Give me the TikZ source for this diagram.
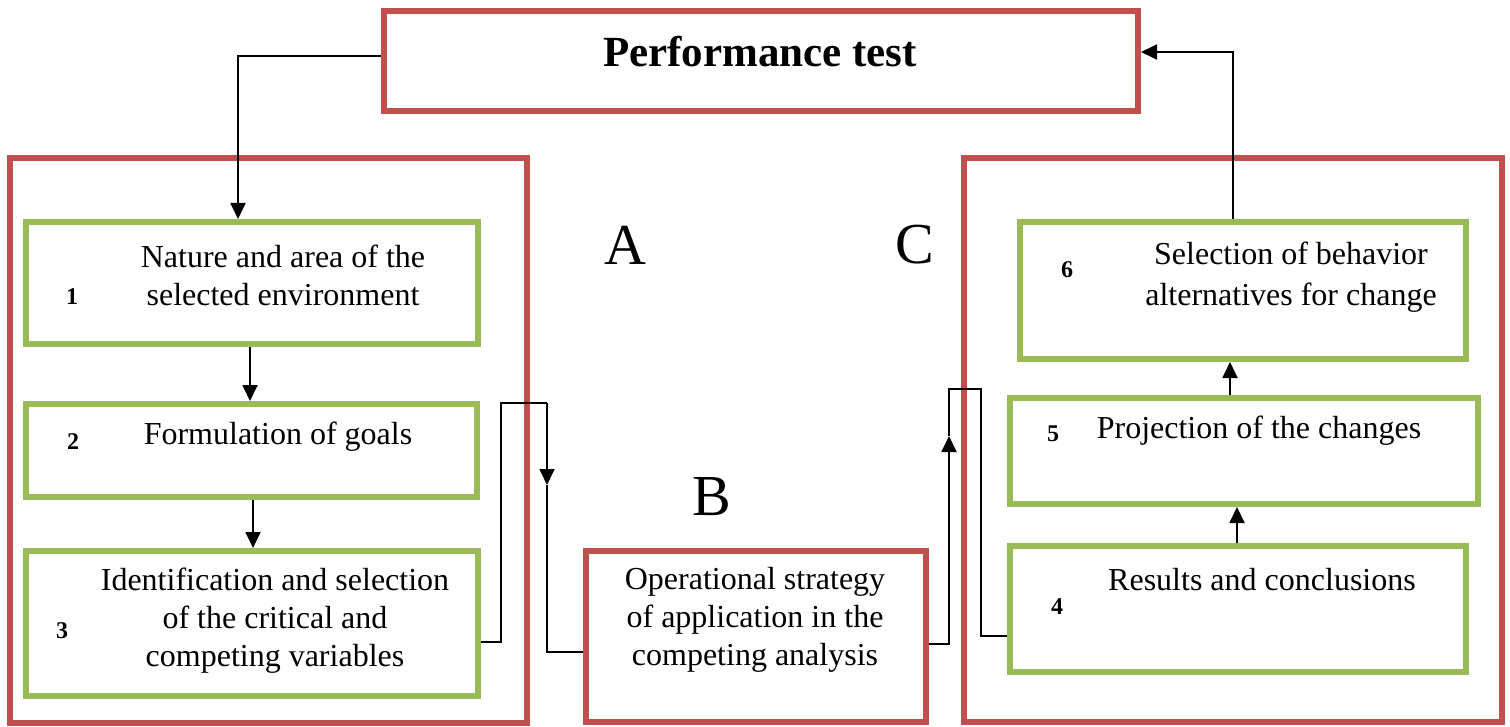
\documentclass[tikz,border=0pt]{standalone}
\usepackage{fontspec}
\setmainfont{Liberation Serif}
\usetikzlibrary{arrows.meta}
\definecolor{boxred}{HTML}{C0504D}
\definecolor{boxgreen}{HTML}{9BBB59}
\tikzset{
  redbox/.style={draw=boxred, line width=6pt, rectangle, inner sep=0pt, fill=none},
  greenbox/.style={draw=boxgreen, line width=6pt, rectangle, inner sep=0pt, fill=none},
  txt/.style={inner sep=0pt, align=center, font=\fontsize{32}{38}\selectfont},
  num/.style={inner sep=0pt, font=\fontsize{24}{28}\selectfont\bfseries},
  letter/.style={inner sep=0pt, font=\fontsize{58}{60}\selectfont},
  conn/.style={line width=1.8pt, -{Triangle[length=16pt,width=15pt]}},
  plain/.style={line width=1.8pt},
}
\begin{document}
\begin{tikzpicture}[x=1pt,y=-1pt]
\useasboundingbox[fill=white] (0,0) rectangle (1510,727);
% boxes
\node[redbox, minimum width=754pt, minimum height=100pt] (pt) at (761,61) {};
\node[redbox, minimum width=517pt, minimum height=565pt] (A) at (268.5,440.5) {};
\node[redbox, minimum width=538pt, minimum height=564pt] (C) at (1233,440) {};
\node[redbox, minimum width=340pt, minimum height=171pt] (B) at (756,636.5) {};
\node[greenbox, minimum width=452pt, minimum height=122pt] (b1) at (252,283) {};
\node[greenbox, minimum width=451pt, minimum height=93pt] (b2) at (251.5,450.5) {};
\node[greenbox, minimum width=452pt, minimum height=145pt] (b3) at (252,623.5) {};
\node[greenbox, minimum width=446pt, minimum height=137pt] (b6) at (1243,290.5) {};
\node[greenbox, minimum width=468pt, minimum height=106pt] (b5) at (1244,451) {};
\node[greenbox, minimum width=456pt, minimum height=126pt] (b4) at (1238,609) {};
% texts
\node[inner sep=0pt, font=\fontsize{43}{48}\selectfont\bfseries] (ptt) at (760,52) {Performance test};
\node[txt] (t1) at (283,275) {Nature and area of the\\selected environment};
\node[txt] (t2) at (278,437) {Formulation of goals};
\node[txt] (t3) at (275,621) {Identification and selection\\of the critical and\\competing variables};
\node[txt] (tB) at (755,620) {Operational strategy\\of application in the\\competing analysis};
\node[txt, font=\fontsize{32}{41}\selectfont] (t6) at (1291,277) {Selection of behavior\\alternatives for change};
\node[txt] (t5) at (1259,431) {Projection of the changes};
\node[txt] (t4) at (1262,580) {Results and conclusions};
\node[num] (n1) at (72,297) {1};
\node[num] (n2) at (73,442) {2};
\node[num] (n3) at (62,631) {3};
\node[num] (n6) at (1067,270) {6};
\node[num] (n5) at (1053,434) {5};
\node[num] (n4) at (1057,607) {4};
\node[letter] (lA) at (625,245) {A};
\node[letter] (lC) at (915,245) {C};
\node[letter] (lB) at (712,497) {B};
% connectors
\coordinate (k1) at (547,485);
\coordinate (k2) at (949,436);
\draw[conn] ([yshift=5pt]pt.west) -| ([xshift=-14pt]b1.north);
\draw[conn] ([xshift=-2pt]b1.south) -- ([xshift=-2pt]b1.south |- b2.north);
\draw[conn] ([xshift=1.5pt]b2.south) -- ([xshift=1.5pt]b2.south |- b3.north);
\draw[plain] ([yshift=-18.5pt]b3.east) -- ++(20,0) |- (k1 |- 0,403);
\draw[conn] (k1 |- 0,403) -- (k1);
\draw[plain] (k1) |- ([yshift=-15.5pt]B.west);
\draw[conn] ([yshift=-7.5pt]B.east) -| (k2);
\draw[plain] (k2) |- (981,389) |- ([yshift=-27pt]b4.west);
\draw[conn] ([xshift=-1pt]b4.north) -- ([xshift=-1pt]b4.north |- b5.south);
\draw[conn] ([xshift=-14pt]b5.north) -- ([xshift=-14pt]b5.north |- b6.south);
\draw[conn] ([xshift=-10pt]b6.north) |- ([yshift=9pt]pt.east);
\end{tikzpicture}
\end{document}
